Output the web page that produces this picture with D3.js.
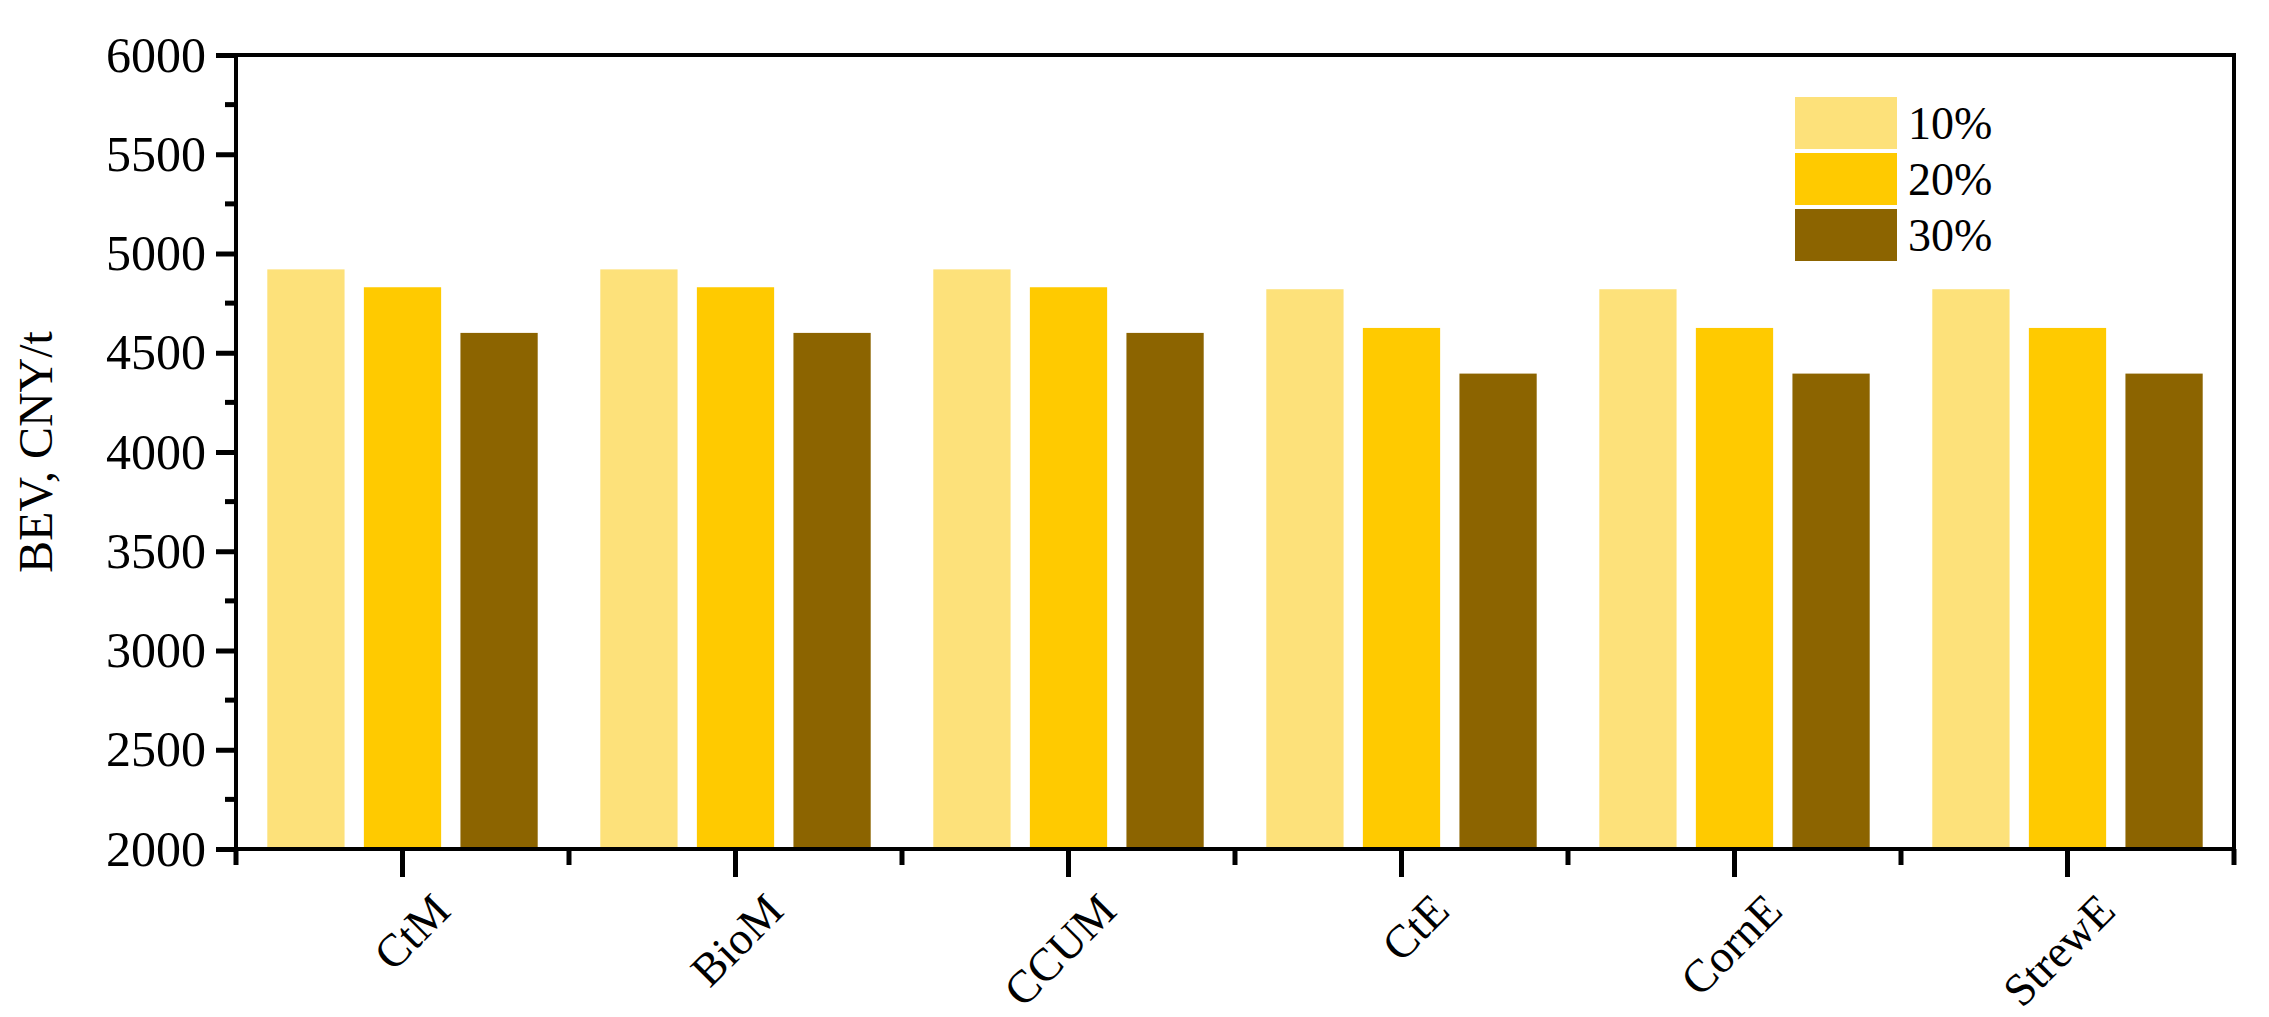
<!DOCTYPE html>
<html><head><meta charset="utf-8">
<script src="https://cdn.jsdelivr.net/npm/d3@7"></script>
<style>body{margin:0;background:#fff}svg text{font-family:"Liberation Serif","Times New Roman",serif !important}</style>
</head><body><svg id="chart" width="2269" height="1017"></svg>
<script>
const categories = ["CtM", "BioM", "CCUM", "CtE", "CornE", "StrewE"];
const seriesNames = ["10%", "20%", "30%"];
const s10 = [4920, 4920, 4920, 4820, 4820, 4820];
const s20 = [4830, 4830, 4830, 4625, 4625, 4625];
const s30 = [4600, 4600, 4600, 4395, 4395, 4395];
const yTicks = [2000, 2500, 3000, 3500, 4000, 4500, 5000, 5500, 6000];
const colors = ["#FDE17A", "#FFCA00", "#8C6400"];
const series = [s10, s20, s30];

const svg = d3.select("#chart");
const m = {left: 236, right: 2234, top: 55, bottom: 849};
const serif = "Liberation Serif";

const x = d3.scaleBand().domain(categories).range([m.left, m.right]);
const y = d3.scaleLinear().domain([2000, 6000]).range([m.bottom, m.top]);
const bw = x.bandwidth() * 0.232;
const step = x.bandwidth() * 0.29;

// bars
series.forEach(function (vals, si) {
    svg.append("g").selectAll("rect")
        .data(vals)
        .enter().append("rect")
        .attr("x", (d, i) => x(categories[i]) + x.bandwidth() / 2 + (si - 1) * step - bw / 2)
        .attr("y", d => y(d))
        .attr("width", bw)
        .attr("height", d => y(2000) - y(d))
        .attr("fill", colors[si]);
});

// frame
svg.append("rect")
    .attr("x", m.left).attr("y", m.top)
    .attr("width", m.right - m.left).attr("height", m.bottom - m.top)
    .attr("fill", "none").attr("stroke", "#000").attr("stroke-width", 4);

// y axis
const yAxis = svg.append("g").attr("transform", "translate(" + m.left + ",0)")
    .call(d3.axisLeft(y).tickValues(yTicks).tickSize(20).tickPadding(10).tickFormat(d3.format("d")));
yAxis.attr("font-family", serif).attr("font-size", 50);
yAxis.select(".domain").remove();
yAxis.selectAll("line").attr("stroke-width", 5);
yAxis.selectAll("text").attr("fill", "#000");
const minorY = d3.range(2250, 6000, 500);
svg.append("g").selectAll("line").data(minorY).enter().append("line")
    .attr("x1", m.left - 11).attr("x2", m.left)
    .attr("y1", d => y(d)).attr("y2", d => y(d))
    .attr("stroke", "#000").attr("stroke-width", 5);

// x axis
const xAxis = svg.append("g").attr("transform", "translate(0," + m.bottom + ")")
    .call(d3.axisBottom(x).tickSize(28).tickPadding(14));
xAxis.attr("font-family", serif).attr("font-size", 46);
xAxis.select(".domain").remove();
xAxis.selectAll("line").attr("stroke-width", 5);
xAxis.selectAll("text")
    .attr("fill", "#000")
    .attr("text-anchor", "end")
    .attr("dy", "0.2em")
    .attr("transform", "translate(14,28) rotate(-45)");
const bounds = categories.map(c => x(c)).concat([m.right]);
svg.append("g").selectAll("line").data(bounds).enter().append("line")
    .attr("x1", d => d).attr("x2", d => d)
    .attr("y1", m.bottom).attr("y2", m.bottom + 16)
    .attr("stroke", "#000").attr("stroke-width", 5);

// y label
svg.append("text")
    .attr("transform", "translate(52," + ((m.top + m.bottom) / 2) + ") rotate(-90)")
    .attr("text-anchor", "middle")
    .attr("font-family", serif)
    .attr("font-size", 48)
    .text("BEV, CNY/t");

// legend
const legend = svg.append("g").attr("transform", "translate(1795,97)");
seriesNames.forEach(function (name, i) {
    legend.append("rect")
        .attr("x", 0).attr("y", i * 56)
        .attr("width", 102).attr("height", 52)
        .attr("fill", colors[i]);
    legend.append("text")
        .attr("x", 113).attr("y", i * 56 + 42)
        .attr("font-family", serif)
        .attr("font-size", 46)
        .text(name);
});
</script>
</body></html>
